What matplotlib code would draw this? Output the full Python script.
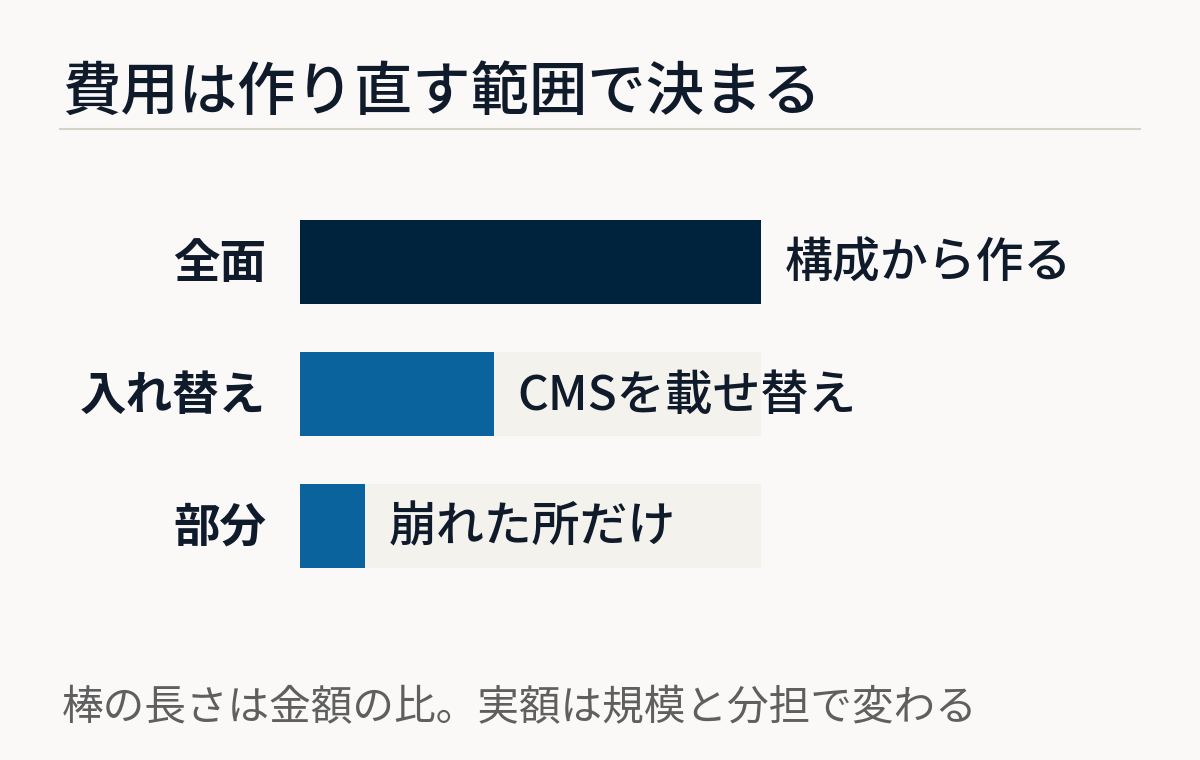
import matplotlib

matplotlib.use("Agg")
import matplotlib.pyplot as plt
import matplotlib.transforms as mtransforms

plt.rcParams["font.family"] = ["Noto Sans CJK JP", "DejaVu Sans"]

# data
categories = ["全面", "入れ替え", "部分"]
values = [100, 42, 14]
value_labels = ["構成から作る", "CMSを載せ替え", "崩れた所だけ"]
title = "費用は作り直す範囲で決まる"
note = "棒の長さは金額の比。実額は規模と分担で変わる"

BG = "#faf9f7"
TRACK = "#f3f2ec"
DARK = "#00233d"
BLUE = "#0a639c"
INK = "#0f1a2a"

W, H = 1200, 760
fig = plt.figure(figsize=(W / 100, H / 100), dpi=100, facecolor=BG)

# axes placed in pixel units: x 300..761, rows every 132 px starting at 262
ax_left, ax_right = 300, 761
ax_top, ax_bottom = 196, 592
ax = fig.add_axes([ax_left / W, 1 - ax_bottom / H, (ax_right - ax_left) / W, (ax_bottom - ax_top) / H])
ax.set_facecolor("none")
ax.set_xlim(0, 100)
ax.set_ylim(len(categories) - 0.5, -0.5)
ax.axis("off")

bar_h = 84 / 132
ys = range(len(categories))
ax.barh(ys, [100] * len(categories), height=bar_h, color=TRACK, zorder=1)
colors = [DARK] + [BLUE] * (len(categories) - 1)
ax.barh(ys, values, height=bar_h, color=colors, zorder=2)

left_off = mtransforms.offset_copy(ax.transData, fig=fig, x=-34, y=-2, units="dots")
right_off = mtransforms.offset_copy(ax.transData, fig=fig, x=24, y=-2, units="dots")
for i, (cat, v, lab) in enumerate(zip(categories, values, value_labels)):
    ax.text(0, i, cat, transform=left_off, ha="right", va="center",
            fontsize=33.5, fontweight="bold", color=INK, clip_on=False)
    ax.text(v, i, lab, transform=right_off, ha="left", va="center",
            fontsize=34.5, fontweight="medium", color=INK, clip_on=False, zorder=3)

fig.text(62 / W, 1 - 93 / H, title, ha="left", va="center",
         fontsize=42, fontweight="medium", color=INK)
fig.add_artist(plt.Line2D([60 / W, 1140 / W], [1 - 129 / H, 1 - 129 / H],
                          color="#d5d2c8", linewidth=1.5))
fig.text(62 / W, 1 - 709 / H, note, ha="left", va="center",
         fontsize=30, color="#5f5f5f")

fig.savefig("out.png", dpi=100, facecolor=BG)
